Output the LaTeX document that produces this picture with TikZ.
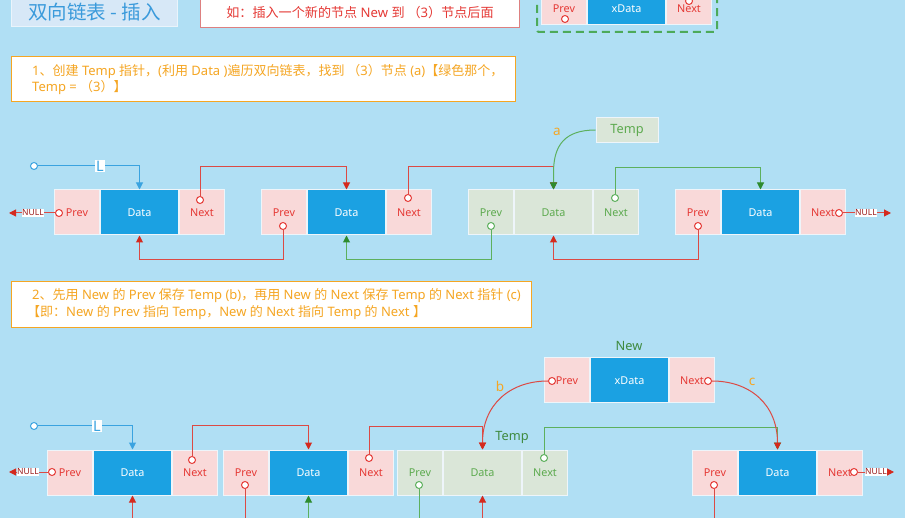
\documentclass[tikz,border=0pt]{standalone}
\usepackage{fontspec}
\setmainfont{Noto Sans}
\newfontfamily\cjk{Noto Sans CJK SC}
\newcommand\zhx[1]{{\cjk #1}}
\usetikzlibrary{arrows.meta,calc}
\definecolor{bg}{HTML}{B0DFF4}
\definecolor{pinkc}{HTML}{F9D9D9}
\definecolor{bluec}{HTML}{1BA1E2}
\definecolor{greenc}{HTML}{DAE6D8}
\definecolor{cellb}{HTML}{EEF5FA}
\definecolor{redt}{HTML}{E53935}
\definecolor{redl}{HTML}{DC4A44}
\definecolor{reda}{HTML}{D42A1E}
\definecolor{greent}{HTML}{5DAA4F}
\definecolor{greenl}{HTML}{5DB05D}
\definecolor{greena}{HTML}{2E8B2E}
\definecolor{bluel}{HTML}{3AA3E0}
\definecolor{orangec}{HTML}{F5A623}
\definecolor{titleb}{HTML}{D7E8F7}
\definecolor{titlebd}{HTML}{EAF4FB}
\definecolor{titlet}{HTML}{3A9ADB}
\definecolor{nullt}{HTML}{9B1B1B}
\definecolor{darkg}{HTML}{3F8A3F}
\definecolor{redbd}{HTML}{DD8080}
\definecolor{dashg}{HTML}{4DAA5A}
\tikzset{
  cell/.style={draw=cellb, line width=1pt, minimum height=45, inner sep=0pt, anchor=west, font=\fontsize{10.8}{12}\selectfont},
  pc/.style={cell, fill=pinkc, text=redt, minimum width=45},
  dc/.style={cell, fill=bluec, text=white, minimum width=78},
  gpc/.style={cell, fill=greenc, text=greent, minimum width=45},
  gdc/.style={cell, fill=greenc, text=greent, minimum width=78},
  dotr/.style={circle, fill=white, draw=redt, line width=1pt, minimum size=7, inner sep=0pt},
  dotg/.style={circle, fill=white, draw=greenl, line width=1pt, minimum size=7, inner sep=0pt},
  dotb/.style={circle, fill=white, draw=bluel, line width=1pt, minimum size=7, inner sep=0pt},
  rline/.style={draw=redl, line width=1pt},
  gline/.style={draw=greenl, line width=1pt},
  bline/.style={draw=bluel, line width=1pt},
  rarr/.style={-{Triangle[length=7pt,width=7pt,color=reda]}},
  garr/.style={-{Triangle[length=7pt,width=7pt,color=greena]}},
  barr/.style={-{Triangle[length=7pt,width=7pt,color=bluel]}},
  rarrs/.style={{Triangle[length=7pt,width=7pt,color=reda]}-},
  garrs/.style={{Triangle[length=7pt,width=7pt,color=greena]}-},
  nullab/.style={fill=white, text=nullt, inner xsep=0.5pt, inner ysep=1pt, font=\fontsize{8.5}{9}\selectfont},
  llab/.style={fill=white, text=bluel, inner xsep=1.5pt, inner ysep=1pt, font=\fontsize{14.5}{15}\selectfont},
  steptext/.style={anchor=west, text=orangec, inner sep=0pt, font=\fontsize{13}{15}\selectfont},
  olab/.style={text=orangec, inner sep=0pt, font=\fontsize{13.5}{14}\selectfont},
  glab/.style={text=darkg, inner sep=0pt, font=\fontsize{12.8}{14}\selectfont},
}
\begin{document}
\begin{tikzpicture}[x=1pt,y=-1pt]
\useasboundingbox (0,0) rectangle (905,518);
\clip (0,0) rectangle (905,518);
\fill[bg] (0,0) rectangle (905,518);

% ---------- header ----------
\node[draw=titlebd, fill=titleb, line width=1pt, minimum width=166, minimum height=28, anchor=north west, inner sep=0pt, text=titlet, font=\cjk\fontsize{19.5}{21}\selectfont] (title) at (11,-2) {双向链表 - 插入};
\node[draw=redbd, fill=white, line width=1pt, minimum width=319, minimum height=29, anchor=north west, inner sep=0pt, text=redt, font=\fontsize{13.1}{15}\selectfont] (note) at (200,-2) {\zhx{如：插入一个新的节点} New \zhx{到 （}3\zhx{）节点后面}};

% top new node in dashed box
\draw[dashg, line width=2pt, dash pattern=on 8pt off 5pt, rounded corners=2pt] (537,-10) rectangle (717,32);
\node[pc, minimum height=45, anchor=south west] (tp) at (541,25) {};
\node[dc, anchor=west] (td) at (tp.east) {};
\node[pc, anchor=west] (tn) at (td.east) {};
\node[text=redt, font=\fontsize{10.8}{12}\selectfont] at ([yshift=-6.5pt]tp.center) {Prev};
\node[text=white, font=\fontsize{10.8}{12}\selectfont] at ([yshift=-6.5pt]td.center) {xData};
\node[text=redt, font=\fontsize{10.8}{12}\selectfont] at ([yshift=-6.5pt]tn.center) {Next};
\node[dotr] (tpc) at (565,19) {};
\node[dotr] (tnc) at (689,1) {};

% ---------- step 1 ----------
\node[draw=orangec, fill=white, line width=1pt, minimum width=504, minimum height=45, anchor=north west, inner sep=0pt] (s1) at (11,56) {};
\node[steptext] (s1a) at (32,71) {1\zhx{、创建} Temp \zhx{指针，}(\zhx{利用} Data )\zhx{遍历双向链表，找到 （}3\zhx{）节点} (a)\zhx{【绿色那个，}};
\node[steptext] (s1b) at (32,88) {Temp = \zhx{（}3\zhx{）】}};

% ---------- row 1 ----------
\node[pc] (a1p) at (54,212.5) {Prev};
\node[dc] (a1d) at (a1p.east) {Data};
\node[pc] (a1n) at (a1d.east) {Next};
\node[pc] (a2p) at (261,212.5) {Prev};
\node[dc] (a2d) at (a2p.east) {Data};
\node[pc] (a2n) at (a2d.east) {Next};
\node[gpc] (a3p) at (468,212.5) {Prev};
\node[gdc] (a3d) at (a3p.east) {Data};
\node[gpc] (a3n) at (a3d.east) {Next};
\node[pc] (a4p) at (675,212.5) {Prev};
\node[dc] (a4d) at (a4p.east) {Data};
\node[pc] (a4n) at (a4d.east) {Next};

\node[draw=cellb, fill=greenc, line width=1pt, minimum width=62, minimum height=25, inner sep=0pt, text=greent, font=\fontsize{12.8}{14}\selectfont] (tmp) at (627,130) {Temp};

\node[dotb] (cL1) at (34,166) {};
\node[dotr] (c1p) at (59,213) {};
\node[dotr] (c1n) at (200,200) {};
\node[dotr] (c2p) at (283,226) {};
\node[dotr] (c2n) at (408,198) {};
\node[dotg] (c3p) at (491,226) {};
\node[dotg] (c3n) at (615,198) {};
\node[dotr] (c4p) at (698,226) {};
\node[dotr] (c4n) at (839,213) {};
\coordinate (nl1) at (9,213);
\coordinate (nr1) at (891,213);

\draw[bline, barr] (cL1) -| (a1d.north);
\node[llab] at (100,166) {L};
\draw[rline, rarr] (c1p) -- (nl1);
\node[nullab] at (33,213) {NULL};
\draw[rline, rarr] (c4n) -- (nr1);
\node[nullab] at (866,213) {NULL};

\draw[rline, rarr] (c1n.north) -- ++(0,-29.5) -| (a2d.north);
\draw[rline, rarr] (c2n.north) -- ++(0,-27.5) -| (a3d.north);
\draw[gline, garr] (c3n.north) -- ++(0,-26.5) -| (a4d.north);
\draw[rline, rarr] (c2p.south) -- ++(0,29.5) -| (a1d.south);
\draw[gline, garr] (c3p.south) -- ++(0,29.5) -| (a2d.south);
\draw[rline, rarr] (c4p.south) -- ++(0,29.5) -| (a3d.south);
\draw[gline, garr] (tmp.west) .. controls +(-30,0) and +(0,-28) .. ([yshift=17pt]a3d.north) -- (a3d.north);
\node[olab] at (557,132) {a};

% ---------- step 2 ----------
\node[draw=orangec, fill=white, line width=1pt, minimum width=520, minimum height=46, anchor=north west, inner sep=0pt] (s2) at (11,281) {};
\node[steptext] (s2a) at (32,296) {2\zhx{、先用} New \zhx{的} Prev \zhx{保存} Temp (b)\zhx{，再用} New \zhx{的} Next \zhx{保存} Temp \zhx{的} Next \zhx{指针} (c)};
\node[steptext] (s2b) at (27,313) {\zhx{【即：}New \zhx{的} Prev \zhx{指向} Temp\zhx{，}New \zhx{的} Next \zhx{指向} Temp \zhx{的} Next \zhx{】}};

% ---------- row 2 ----------
\node[pc] (b1p) at (47,472.5) {Prev};
\node[dc] (b1d) at (b1p.east) {Data};
\node[pc] (b1n) at (b1d.east) {Next};
\node[pc] (b2p) at (223,472.5) {Prev};
\node[dc] (b2d) at (b2p.east) {Data};
\node[pc] (b2n) at (b2d.east) {Next};
\node[gpc] (b3p) at (397,472.5) {Prev};
\node[gdc] (b3d) at (b3p.east) {Data};
\node[gpc] (b3n) at (b3d.east) {Next};
\node[pc] (b4p) at (692,472.5) {Prev};
\node[dc] (b4d) at (b4p.east) {Data};
\node[pc] (b4n) at (b4d.east) {Next};

\node[pc] (np) at (544,380.5) {Prev};
\node[dc] (nd) at (np.east) {xData};
\node[pc] (nn) at (nd.east) {Next};
\node[glab] at (629,346) {New};
\node[glab] at (512,437) {Temp};

\node[dotb] (cL2) at (34,426) {};
\node[dotr] (d1p) at (52,472) {};
\node[dotr] (d1n) at (192,460) {};
\node[dotr] (d2p) at (245,485) {};
\node[dotr] (d2n) at (369,458) {};
\node[dotg] (d3p) at (419,485) {};
\node[dotg] (d3n) at (544,458) {};
\node[dotr] (d4p) at (714,485) {};
\node[dotr] (d4n) at (854,472) {};
\node[dotr] (dnp) at (552,381) {};
\node[dotr] (dnn) at (708,381) {};
\coordinate (nl2) at (9,472);
\coordinate (nr2) at (894,472);

\draw[bline, barr] (cL2) -| (b1d.north);
\node[llab] at (97,426) {L};
\draw[rline, rarr] (d1p) -- (nl2);
\node[nullab] at (28,472) {NULL};
\draw[rline, rarr] (d4n) -- (nr2);
\node[nullab] at (876,472) {NULL};

\draw[rline, rarr] (d1n.north) -- ++(0,-30.5) -| (b2d.north);
\draw[rline, rarr] (d2n.north) -- ++(0,-27.5) -| (b3d.north);
\draw[gline, garr] (d3n.north) -- ++(0,-26.5) -| (b4d.north);
\draw[rline, rarr] (dnp.west) .. controls +(-38,0) and +(0,-45) .. (b3d.north);
\draw[rline, rarr] (dnn.east) .. controls +(38,0) and +(0,-45) .. (b4d.north);
\node[olab] at (500,386) {b};
\node[olab] at (752,382) {c};

\draw[rline, rarrs] (b1d.south) -- ++(0,30);
\draw[rline] (d2p.south) -- ++(0,30);
\draw[gline, garrs] (b2d.south) -- ++(0,30);
\draw[gline] (d3p.south) -- ++(0,30);
\draw[rline, rarrs] (b3d.south) -- ++(0,30);
\draw[rline] (d4p.south) -- ++(0,30);
\end{tikzpicture}
\end{document}
